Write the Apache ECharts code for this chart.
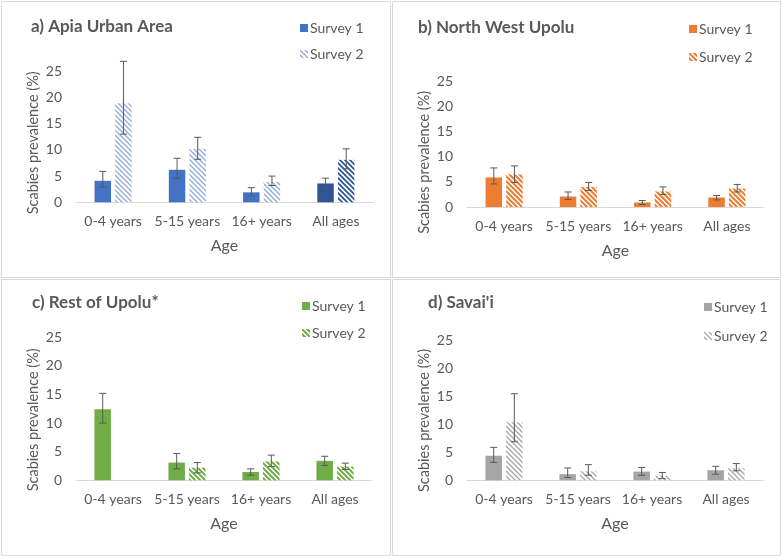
<!DOCTYPE html>
<html><head><meta charset="utf-8">
<script src="https://cdn.jsdelivr.net/npm/echarts@6/dist/echarts.min.js"></script>
<style>html,body{margin:0;padding:0;background:#fff}#c{width:782px;height:556px}</style>
</head><body><div id="c"></div><script>
// ---- data ----
const categories = ['0-4 years', '5-15 years', '16+ years', 'All ages'];
const yTicks = [0, 5, 10, 15, 20, 25];
const titles = ['a) Apia Urban Area', 'b) North West Upolu', 'c) Rest of Upolu*', "d) Savai'i"];
const seriesNames = ['Survey 1', 'Survey 2'];
const xName = 'Age';
const yName = 'Scabies prevalence (%)';

// a) Apia Urban Area
const aS1 = [4.1, 6.2, 1.9, 3.6];
const aS1Low = [2.9, 4.6, 1.2, 2.7];
const aS1High = [5.9, 8.4, 2.8, 4.6];
const aS2 = [18.9, 10.2, 3.9, 8.1];
const aS2Low = [13.0, 8.2, 3.2, 6.4];
const aS2High = [26.9, 12.4, 5.0, 10.2];
// b) North West Upolu
const bS1 = [5.9, 2.1, 0.9, 1.9];
const bS1Low = [4.6, 1.5, 0.5, 1.4];
const bS1High = [7.8, 3.0, 1.3, 2.3];
const bS2 = [6.5, 4.0, 3.1, 3.7];
const bS2Low = [4.9, 3.3, 2.5, 3.0];
const bS2High = [8.2, 4.9, 4.0, 4.5];
// c) Rest of Upolu*
const cS1 = [12.4, 3.1, 1.45, 3.4];
const cS1Low = [10.0, 2.0, 0.9, 2.6];
const cS1High = [15.2, 4.7, 2.0, 4.2];
const cS2 = [null, 2.2, 3.3, 2.4];
const cS2Low = [null, 1.3, 2.4, 1.9];
const cS2High = [null, 3.1, 4.4, 3.0];
// d) Savai'i
const dS1 = [4.4, 1.1, 1.55, 1.8];
const dS1Low = [3.2, 0.5, 0.9, 1.1];
const dS1High = [5.9, 2.2, 2.3, 2.5];
const dS2 = [10.4, 1.6, 0.8, 2.15];
const dS2Low = [6.9, 0.9, 0.3, 1.7];
const dS2High = [15.5, 2.8, 1.4, 3.0];

// ---- styles ----
const FONT = 'Lato';
const TXT = '#595959';
function stripe(color, lw, n) {
  const c = document.createElement('canvas');
  c.width = n; c.height = n;
  const g = c.getContext('2d');
  g.fillStyle = '#ffffff'; g.fillRect(0, 0, n, n);
  g.strokeStyle = color; g.lineWidth = lw; g.lineCap = 'square';
  g.beginPath();
  for (let k = -1; k <= 1; k++) { g.moveTo(k * n, 0); g.lineTo(k * n + n, n); }
  g.stroke();
  return { image: c, repeat: 'repeat' };
}

const panels = [
  { s1: aS1, s1l: aS1Low, s1h: aS1High, s2: aS2, s2l: aS2Low, s2h: aS2High,
    c1: '#4472C4', c2: stripe('#8FAADC', 1.3, 5),
    special: { idx: 3, c1: '#2F5597', c2: stripe('#2F5597', 1.8, 5) },
    grid: { left: 76, top: 71.3, width: 297, height: 131 },
    title: [31, 18], legend: [300, 21], lgap: 12, border: [1, 1, 389, 276], yShift: 6 },
  { s1: bS1, s1l: bS1Low, s1h: bS1High, s2: bS2, s2l: bS2Low, s2h: bS2High,
    c1: '#ED7D31', c2: stripe('#ED7D31', 2, 5),
    grid: { left: 467, top: 81.7, width: 297, height: 125.3 },
    title: [418, 19], legend: [689, 22], lgap: 14, border: [392, 1, 388, 276], yShift: 18 },
  { s1: cS1, s1l: cS1Low, s1h: cS1High, s2: cS2, s2l: cS2Low, s2h: cS2High,
    c1: '#70AD47', c2: stripe('#70AD47', 2, 5),
    grid: { left: 76, top: 337.3, width: 296, height: 143 },
    title: [32, 294], legend: [302, 299], lgap: 13, border: [1, 279, 389, 276], yShift: 11 },
  { s1: dS1, s1l: dS1Low, s1h: dS1High, s2: dS2, s2l: dS2Low, s2h: dS2High,
    c1: '#A5A5A5', c2: stripe('#A5A5A5', 1.3, 5),
    grid: { left: 467, top: 340.7, width: 296, height: 139.6 },
    title: [428, 294], legend: [704, 300], lgap: 15, border: [392, 279, 388, 276], yShift: 10 }
];

const BAR_W = 16.5;
const GAP = 0.25;

function errRender(offsetSign) {
  return function (params, api) {
    const x = api.value(0), lo = api.value(1), hi = api.value(2);
    if (lo == null || isNaN(lo)) return;
    const p1 = api.coord([x, lo]);
    const p2 = api.coord([x, hi]);
    const off = offsetSign * (BAR_W + BAR_W * GAP) / 2;
    const cx = p1[0] + off;
    const cap = 3.5;
    const st = { stroke: '#595959', lineWidth: 1 };
    return {
      type: 'group',
      children: [
        { type: 'line', shape: { x1: cx, y1: p1[1], x2: cx, y2: p2[1] }, style: st },
        { type: 'line', shape: { x1: cx - cap, y1: p1[1], x2: cx + cap, y2: p1[1] }, style: st },
        { type: 'line', shape: { x1: cx - cap, y1: p2[1], x2: cx + cap, y2: p2[1] }, style: st }
      ]
    };
  };
}

const option = {
  animation: false,
  backgroundColor: '#ffffff',
  textStyle: { fontFamily: FONT },
  title: [], legend: [], grid: [], xAxis: [], yAxis: [], series: [],
  graphic: []
};

panels.forEach((p, i) => {
  option.graphic.push({
    type: 'rect', silent: true, z: -1,
    shape: { x: p.border[0] + 0.5, y: p.border[1] + 0.5, width: p.border[2], height: p.border[3] },
    style: { fill: 'none', stroke: '#D9D9D9', lineWidth: 1 }
  });
  option.title.push({
    text: titles[i], left: p.title[0], top: p.title[1], padding: 0,
    textStyle: { fontFamily: FONT, fontWeight: 'bold', fontSize: 17, color: TXT }
  });
  option.legend.push({
    orient: 'vertical', left: p.legend[0], top: p.legend[1], padding: 0,
    itemWidth: 8, itemHeight: 8, itemGap: p.lgap, icon: 'rect',
    textStyle: { fontFamily: FONT, fontSize: 14, color: TXT, padding: [0, 0, 0, -3] },
    data: [
      { name: seriesNames[0], itemStyle: { color: p.c1 } },
      { name: seriesNames[1], itemStyle: { color: p.c2 } }
    ],
    selectedMode: false
  });
  option.grid.push(p.grid);
  option.xAxis.push({
    type: 'category', gridIndex: i, data: categories,
    axisLine: { lineStyle: { color: '#D9D9D9', width: 1 } },
    axisTick: { show: false },
    axisLabel: { fontFamily: FONT, fontSize: 14, color: TXT, margin: 12, interval: 0 },
    name: xName, nameLocation: 'middle', nameGap: 36,
    nameTextStyle: { fontFamily: FONT, fontSize: 16, color: TXT }
  });
  option.yAxis.push({
    type: 'value', gridIndex: i, min: yTicks[0], max: yTicks[yTicks.length - 1], interval: yTicks[1] - yTicks[0],
    axisLine: { show: false }, axisTick: { show: false }, splitLine: { show: false },
    axisLabel: { fontFamily: FONT, fontSize: 14, color: TXT, margin: 14 },
    name: yName, nameLocation: 'middle', nameGap: 35,
    nameTextStyle: { fontFamily: FONT, fontSize: 14.5, color: TXT, padding: [0, 2 * p.yShift, 0, 0] }
  });
  const mk = (vals, spCol) => vals.map((v, k) => {
    if (p.special && k === p.special.idx) return { value: v, itemStyle: { color: spCol } };
    return v;
  });
  option.series.push({
    name: seriesNames[0], type: 'bar', xAxisIndex: i, yAxisIndex: i,
    barWidth: BAR_W, barGap: (GAP * 100) + '%',
    itemStyle: { color: p.c1 },
    data: mk(p.s1, p.special && p.special.c1)
  });
  option.series.push({
    name: seriesNames[1], type: 'bar', xAxisIndex: i, yAxisIndex: i,
    barWidth: BAR_W, barGap: (GAP * 100) + '%',
    itemStyle: { color: p.c2 },
    data: mk(p.s2, p.special && p.special.c2)
  });
  option.series.push({
    type: 'custom', xAxisIndex: i, yAxisIndex: i, clip: false, z: 5,
    renderItem: errRender(-1),
    data: p.s1l.map((v, k) => [k, v, p.s1h[k]])
  });
  option.series.push({
    type: 'custom', xAxisIndex: i, yAxisIndex: i, clip: false, z: 5,
    renderItem: errRender(1),
    data: p.s2l.map((v, k) => [k, v == null ? NaN : v, p.s2h[k] == null ? NaN : p.s2h[k]])
  });
});

const chart = echarts.init(document.getElementById('c'), null, { renderer: 'canvas' });
chart.setOption(option);
</script></body></html>
